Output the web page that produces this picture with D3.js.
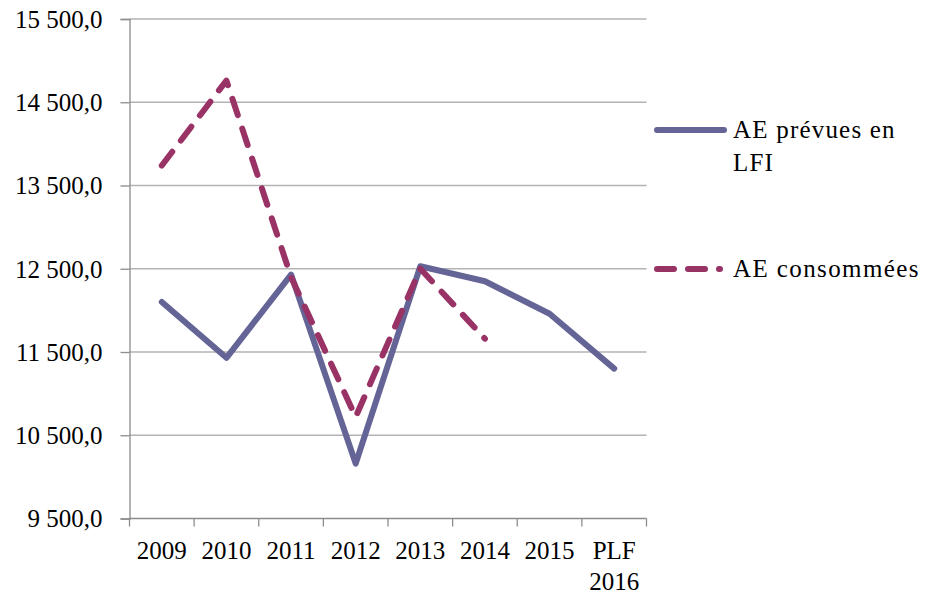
<!DOCTYPE html>
<html>
<head>
<meta charset="utf-8">
<script src="https://cdn.jsdelivr.net/npm/d3@7/dist/d3.min.js"></script>
<style>
  html, body { margin: 0; padding: 0; background: #fff; }
  svg text { font-family: "Liberation Serif", "Times New Roman", serif; fill: #000; }
</style>
</head>
<body>
<svg id="chart" width="931" height="602"></svg>
<script>
// Years on the category axis
const categories = ["2009", "2010", "2011", "2012", "2013", "2014", "2015", "PLF 2016"];
// Autorisations d'engagement prévues en LFI
const aePrevues = [12100, 11430, 12430, 10160, 12530, 12350, 11960, 11300];
// Autorisations d'engagement consommées (no value after 2014)
const aeConsommees = [13740, 14760, 12400, 10720, 12500, 11660, null, null];
// Value axis ticks
const yTicks = [9500, 10500, 11500, 12500, 13500, 14500, 15500];

const seriesNames = ["AE prévues en LFI", "AE consommées"];

const svg = d3.select("#chart");
const plotLeft = 129.5, plotRight = 646.5, plotTop = 19, plotBottom = 518.5;

const x = d3.scaleBand().domain(categories).range([plotLeft, plotRight]).padding(0);
const y = d3.scaleLinear().domain([9500, 15500]).range([plotBottom, plotTop]);

const fr = d3.formatLocale({ decimal: ",", thousands: " ", grouping: [3], currency: ["", " €"] });
const fmt = fr.format(",.1f");

// Horizontal gridlines
svg.append("g")
  .selectAll("line")
  .data(yTicks.filter(v => v !== 9500))
  .join("line")
  .attr("x1", plotLeft).attr("x2", plotRight)
  .attr("y1", d => y(d)).attr("y2", d => y(d))
  .attr("stroke", "#b3b3b3").attr("stroke-width", 1.3);

// Value axis
const yAxis = svg.append("g")
  .attr("transform", `translate(${plotLeft},0)`)
  .call(d3.axisLeft(y).tickValues(yTicks).tickFormat(fmt).tickSize(9).tickPadding(18));
yAxis.attr("font-family", null).attr("font-size", null);
yAxis.select(".domain").attr("stroke", "#8c8c8c").attr("stroke-width", 1.3);
yAxis.selectAll(".tick line").attr("stroke", "#8c8c8c").attr("stroke-width", 1.3);
yAxis.selectAll(".tick text")
  .style("font-size", "25px")
  .attr("dy", "0.33em");

// Category axis: baseline, boundary ticks and labels
const xg = svg.append("g");
xg.append("line")
  .attr("x1", plotLeft).attr("x2", plotRight)
  .attr("y1", y(9500)).attr("y2", y(9500))
  .attr("stroke", "#8c8c8c").attr("stroke-width", 1.3);
const bounds = categories.map(c => x(c)).concat([x.range()[1]]);
xg.selectAll("line.tick")
  .data(bounds)
  .join("line")
  .attr("class", "tick")
  .attr("x1", d => d).attr("x2", d => d)
  .attr("y1", y(9500)).attr("y2", y(9500) + 8)
  .attr("stroke", "#8c8c8c").attr("stroke-width", 1.3);
xg.selectAll("text")
  .data(categories)
  .join("text")
  .attr("x", d => x(d) + x.bandwidth() / 2)
  .attr("y", 559)
  .attr("text-anchor", "middle")
  .style("font-size", "25px")
  .each(function (d) {
    const parts = d.split(" ");
    d3.select(this).selectAll("tspan")
      .data(parts)
      .join("tspan")
      .attr("x", x(d) + x.bandwidth() / 2)
      .attr("dy", (p, i) => i === 0 ? 0 : 31)
      .text(p => p);
  });

// Lines
const cx = c => x(c) + x.bandwidth() / 2;
const line = d3.line()
  .defined(d => d.v != null)
  .x(d => cx(d.c))
  .y(d => y(d.v));

const toPts = vals => categories.map((c, i) => ({ c, v: vals[i] }));

svg.append("path")
  .datum(toPts(aePrevues))
  .attr("d", line)
  .attr("fill", "none")
  .attr("stroke", "#646497")
  .attr("stroke-width", 6)
  .attr("stroke-linecap", "round")
  .attr("stroke-linejoin", "round");

const dashLen = 17, gapLen = 14;
const consPath = svg.append("path")
  .datum(toPts(aeConsommees))
  .attr("d", line)
  .attr("fill", "none")
  .attr("stroke", "#993366")
  .attr("stroke-width", 6)
  .attr("stroke-linecap", "round")
  .attr("stroke-linejoin", "round");
// Stretch the dash period slightly so the series starts on a dash and closes on a round dot
const total = consPath.node().getTotalLength();
const nPeriods = Math.round(total / (dashLen + gapLen));
const k = (total - 1) / (nPeriods * (dashLen + gapLen));
consPath.attr("stroke-dasharray", `${dashLen * k} ${gapLen * k}`);

// Legend
const legend = svg.append("g");
legend.append("line")
  .attr("x1", 657).attr("x2", 724).attr("y1", 130).attr("y2", 130)
  .attr("stroke", "#646497").attr("stroke-width", 6).attr("stroke-linecap", "round");
legend.append("text")
  .attr("x", 733).attr("y", 138)
  .style("font-size", "25px").style("letter-spacing", "1.2px")
  .text("AE prévues en");
legend.append("text")
  .attr("x", 733).attr("y", 171)
  .style("font-size", "25px").style("letter-spacing", "1.2px")
  .text("LFI");

legend.append("line")
  .attr("x1", 657).attr("x2", 720).attr("y1", 269).attr("y2", 269)
  .attr("stroke", "#993366").attr("stroke-width", 6)
  .attr("stroke-dasharray", `${dashLen} ${gapLen}`).attr("stroke-linecap", "round");
legend.append("text")
  .attr("x", 733).attr("y", 277)
  .style("font-size", "25px").style("letter-spacing", "1.4px")
  .text("AE consommées");
</script>
</body>
</html>
